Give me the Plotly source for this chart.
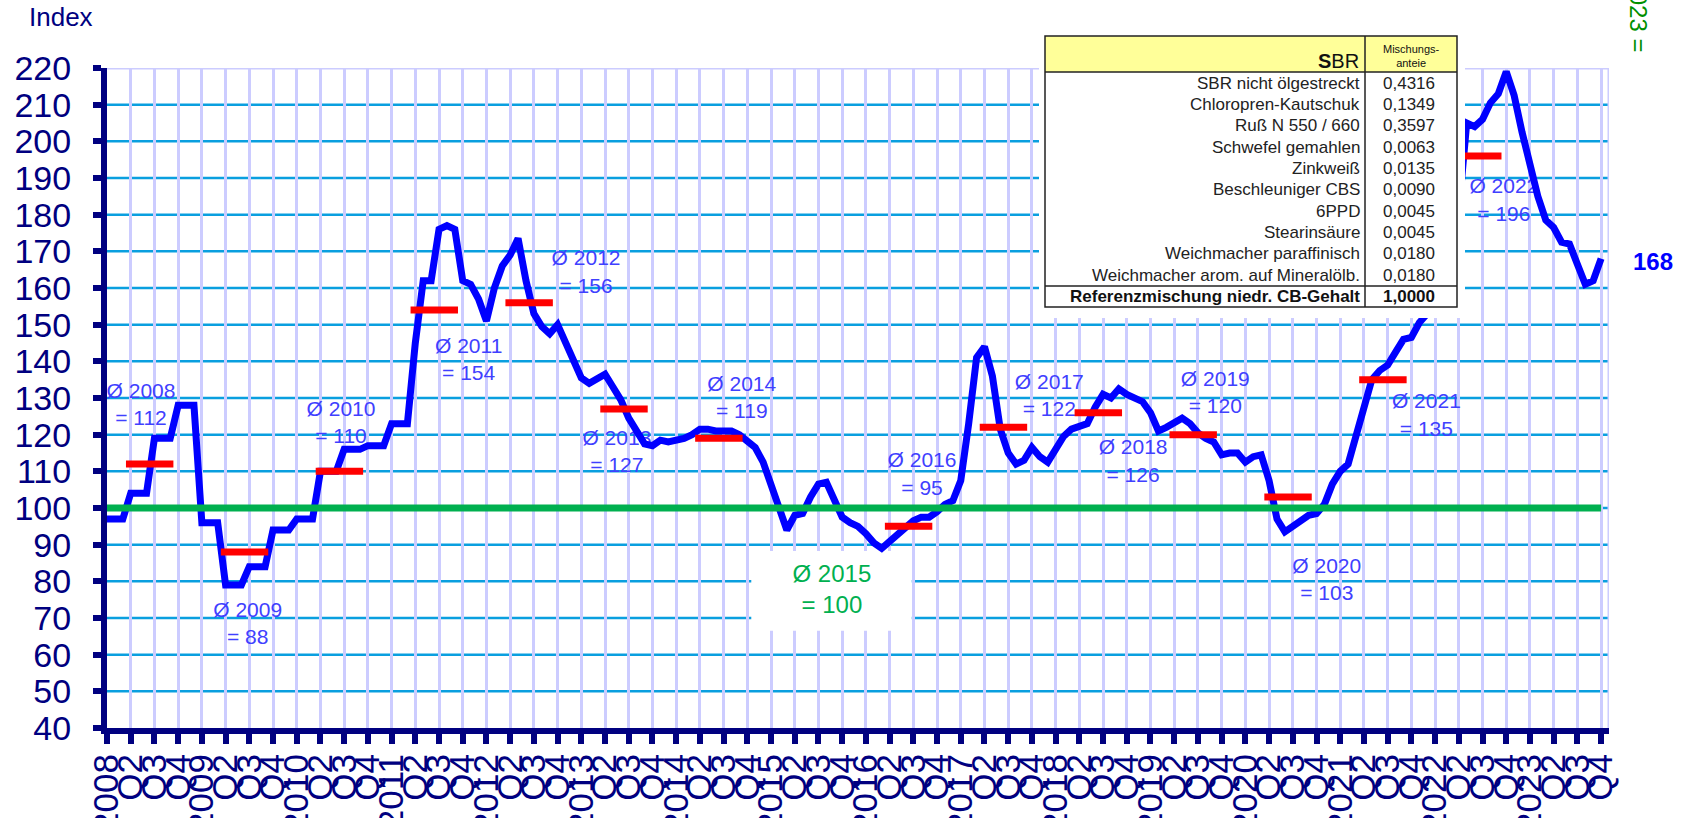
import plotly.graph_objects as go

# ---------------- data ----------------
start_year = 2008
end_year = 2023
quarter_names = ["", "Q2", "Q3", "Q4"]

# monthly index values, Jan 2008 .. Oct 2023
idx_2008 = [97, 97, 97, 104, 104, 104, 119, 119, 119, 128, 128, 128]
idx_2009 = [96, 96, 96, 79, 79, 79, 84, 84, 84, 94, 94, 94]
idx_2010 = [97, 97, 97, 110, 110, 110, 116, 116, 116, 117, 117, 117]
idx_2011 = [123, 123, 123, 145, 162, 162, 176, 177, 176, 162, 161, 157]
idx_2012 = [151, 160, 166, 169, 173.5, 162, 153, 149.5, 147.5, 150, 145, 140]
idx_2013 = [135.5, 134, 135.5, 136.5, 133, 129.5, 124.5, 120.5, 117.5, 117, 118.5, 118]
idx_2014 = [118.5, 119, 120, 121.5, 121.5, 121, 121, 121, 120, 118.5, 116.5, 112.5]
idx_2015 = [106, 99.5, 94, 98, 98.5, 103, 106.5, 107, 102.5, 97.5, 96, 95]
idx_2016 = [93, 90.5, 89, 91, 92.5, 94.5, 96.5, 97.5, 97.5, 99, 101, 102]
idx_2017 = [107.5, 123, 141, 144, 136, 121.5, 115, 112, 113, 116.5, 114, 112.5]
idx_2018 = [116, 119.5, 121.5, 122.5, 123, 127.5, 131, 130, 132.5, 131, 130, 129]
idx_2019 = [126, 121, 122, 123, 124.5, 123, 120.5, 119, 118, 114.5, 115, 115]
idx_2020 = [112.5, 114, 114.5, 107.5, 97, 93.5, 95, 97, 98, 98.5, 101, 106.5]
idx_2021 = [110, 112, 119.5, 128.5, 135, 137.5, 139, 142.5, 146, 146.5, 150.5, 153]
idx_2022 = [158, 165, 175, 181, 205, 204, 206, 210.5, 213, 219, 212.5, 202.5]
idx_2023 = [193, 185, 178.5, 176.5, 172.5, 172, 166.5, 161, 162, 168]

index_values = (idx_2008 + idx_2009 + idx_2010 + idx_2011 + idx_2012 + idx_2013 +
                idx_2014 + idx_2015 + idx_2016 + idx_2017 + idx_2018 + idx_2019 +
                idx_2020 + idx_2021 + idx_2022 + idx_2023)

avg_years = [2008, 2009, 2010, 2011, 2012, 2013, 2014, 2015,
             2016, 2017, 2018, 2019, 2020, 2021, 2022]
avg_values = [112, 88, 110, 154, 156, 127, 119, 100,
              95, 122, 126, 120, 103, 135, 196]
base_year = 2015
base_value = 100
latest_label = "168"
partial_label = "Ø 2023 ="

table_title = "SBR"
table_share_head = "Mischungs-<br>anteie"
table_components = ["SBR nicht ölgestreckt", "Chloropren-Kautschuk", "Ruß N 550 / 660",
                    "Schwefel gemahlen", "Zinkweiß", "Beschleuniger CBS", "6PPD",
                    "Stearinsäure", "Weichmacher paraffinisch",
                    "Weichmacher arom. auf Mineralölb."]
table_shares = ["0,4316", "0,1349", "0,3597", "0,0063", "0,0135", "0,0090",
                "0,0045", "0,0045", "0,0180", "0,0180"]
table_total_name = "Referenzmischung niedr. CB-Gehalt"
table_total_share = "1,0000"

# ---------------- layout constants ----------------
W, H = 1681, 818
L, R, T, B = 107, 1609, 68, 728
FONT = "Liberation Sans, Arial, sans-serif"
NAVY = "#000080"
LBL = "#4040FF"
GREEN = "#00B050"

def px_x(px):
    return (px - L) / (R - L)

def px_y(py):
    return (B - py) / (B - T)

months = list(range(len(index_values)))
n_quarters = (end_year - start_year + 1) * 4
tickvals = [q * 3 for q in range(n_quarters)]
ticktext = [str(start_year + q // 4) if q % 4 == 0 else quarter_names[q % 4]
            for q in range(n_quarters)]

# label positions (month, value) for the yearly average notes
label_pos = {2008: (4.3, 127.7), 2009: (17.8, 68.0), 2010: (29.6, 122.8),
             2011: (45.75, 140.1), 2012: (60.6, 163.9), 2013: (64.5, 115.0),
             2014: (80.3, 129.7), 2015: (91.7, 77.2), 2016: (103.1, 108.8),
             2017: (119.2, 130.2), 2018: (129.8, 112.3), 2019: (140.2, 131.0),
             2020: (154.3, 80.0), 2021: (166.9, 124.9), 2022: (176.7, 183.5)}

fig = go.Figure()

# text labels (drawn beneath the lines)
lx, ly, lt = [], [], []
for yr, av in zip(avg_years, avg_values):
    if yr == base_year:
        continue
    lx.append(label_pos[yr][0]); ly.append(label_pos[yr][1])
    lt.append(f"Ø {yr}<br>= {av}")
fig.add_trace(go.Scatter(x=lx, y=ly, text=lt, mode="text", cliponaxis=False,
                         textfont=dict(family=FONT, size=21, color=LBL),
                         hoverinfo="skip", showlegend=False))
fig.add_trace(go.Scatter(x=[label_pos[base_year][0]], y=[label_pos[base_year][1]],
                         text=[f"Ø {base_year}<br>= {base_value}"], mode="text",
                         textfont=dict(family=FONT, size=24, color=GREEN),
                         hoverinfo="skip", showlegend=False))

# index line
fig.add_trace(go.Scatter(x=months, y=index_values, mode="lines",
                         line=dict(color="#0000FF", width=7),
                         hoverinfo="skip", showlegend=False))
# base line
fig.add_trace(go.Scatter(x=[months[0], months[-1]], y=[base_value, base_value],
                         mode="lines", line=dict(color=GREEN, width=7),
                         hoverinfo="skip", showlegend=False))
# yearly averages
rx, ry = [], []
for yr, av in zip(avg_years, avg_values):
    if yr == base_year:
        continue
    m0 = (yr - start_year) * 12
    rx += [m0 + 2.4, m0 + 8.4, None]
    ry += [av, av, None]
fig.add_trace(go.Scatter(x=rx, y=ry, mode="lines",
                         line=dict(color="#FF0000", width=7),
                         hoverinfo="skip", showlegend=False))

shapes = []
# horizontal grid lines (below vertical ones)
for v in range(50, 220, 10):
    shapes.append(dict(type="line", xref="x", yref="y", x0=0, x1=190, y0=v, y1=v,
                       line=dict(color="#0A9FDF", width=2.5), layer="below"))
# top and right border
shapes.append(dict(type="line", xref="x", yref="y", x0=0, x1=190, y0=220, y1=220,
                   line=dict(color="#CCCCFF", width=3), layer="between"))
shapes.append(dict(type="line", xref="x", yref="y", x0=190, x1=190, y0=40, y1=220,
                   line=dict(color="#CCCCFF", width=3), layer="between"))
# white box behind base year note
shapes.append(dict(type="rect", xref="x", yref="y", x0=81.5, x1=101.8, y0=66.5, y1=88.3,
                   fillcolor="white", line=dict(width=0), layer="between"))
# table
tl, tr, tt, tb = 1045, 1457, 36, 307
tdiv, thead, tsep = 1365, 72, 286
shapes.append(dict(type="rect", xref="paper", yref="paper", x0=px_x(1039), x1=px_x(1465),
                   y0=px_y(318), y1=px_y(28), fillcolor="white", line=dict(width=0),
                   layer="above"))
shapes.append(dict(type="rect", xref="paper", yref="paper", x0=px_x(tl), x1=px_x(tr),
                   y0=px_y(thead), y1=px_y(tt), fillcolor="#FFFF99", line=dict(width=0),
                   layer="above"))
shapes.append(dict(type="rect", xref="paper", yref="paper", x0=px_x(tl), x1=px_x(tr),
                   y0=px_y(tb), y1=px_y(tt), line=dict(color="#222222", width=1.5),
                   layer="above"))
for yline in (thead, tsep):
    shapes.append(dict(type="line", xref="paper", yref="paper", x0=px_x(tl), x1=px_x(tr),
                       y0=px_y(yline), y1=px_y(yline), line=dict(color="#222222", width=1.5),
                       layer="above"))
shapes.append(dict(type="line", xref="paper", yref="paper", x0=px_x(tdiv), x1=px_x(tdiv),
                   y0=px_y(tb), y1=px_y(tt), line=dict(color="#222222", width=1.5),
                   layer="above"))

def note(text, px, py, size, color, xanchor="center", angle=0):
    return dict(text=text, xref="paper", yref="paper", x=px_x(px), y=px_y(py),
                xanchor=xanchor, yanchor="middle", textangle=angle, showarrow=False,
                font=dict(family=FONT, size=size, color=color))

ann = []
ann.append(note("Index", 61, 17, 26, NAVY))
ann.append(note(f"<b>{latest_label}</b>", 1653, 261, 24, "#0000FF"))
ann.append(note(partial_label, 1638, 2, 24, "#009000", angle=90))
ann.append(note(f"<b>S</b>BR", 1361, 61, 20, "#111111", xanchor="right"))
ann.append(note(table_share_head, 1411, 56, 11, "#111111"))
for i, (name, share) in enumerate(zip(table_components, table_shares)):
    yc = 83.3 + 21.3 * i
    ann.append(note(name, 1362, yc, 17, "#222222", xanchor="right"))
    ann.append(note(share, 1437, yc, 17, "#222222", xanchor="right"))
ann.append(note(f"<b>{table_total_name}</b>", 1362, 296.7, 17, "#111111", xanchor="right"))
ann.append(note(f"<b>{table_total_share}</b>", 1437, 296.7, 17, "#111111", xanchor="right"))

fig.update_layout(
    width=W, height=H, autosize=False,
    margin=dict(l=L, r=W - R, t=T, b=H - B, pad=0, autoexpand=False),
    paper_bgcolor="white", plot_bgcolor="white",
    showlegend=False, shapes=shapes, annotations=ann,
    font=dict(family=FONT, color=NAVY),
)
fig.update_xaxes(range=[0, 190], tickmode="array", tickvals=tickvals, ticktext=ticktext,
                 tickangle=-90, tickfont=dict(family=FONT, size=35, color=NAVY),
                 showgrid=True, gridcolor="#CCCCFF", gridwidth=3, zeroline=False,
                 showline=True, linecolor=NAVY, linewidth=6, automargin=False,
                 ticks="outside", ticklen=10, tickwidth=6, tickcolor=NAVY,
                 ticklabelstandoff=-4)
fig.update_yaxes(range=[40, 220], tick0=40, dtick=10,
                 tickfont=dict(family=FONT, size=34, color=NAVY),
                 showgrid=False, zeroline=False, automargin=False,
                 showline=True, linecolor=NAVY, linewidth=6,
                 ticks="outside", ticklen=8, tickwidth=6, tickcolor=NAVY,
                 ticklabelstandoff=15)

fig.write_html("out.html", config={"displayModeBar": False},
               post_script="document.body.style.margin='0';document.body.style.overflow='hidden';")
